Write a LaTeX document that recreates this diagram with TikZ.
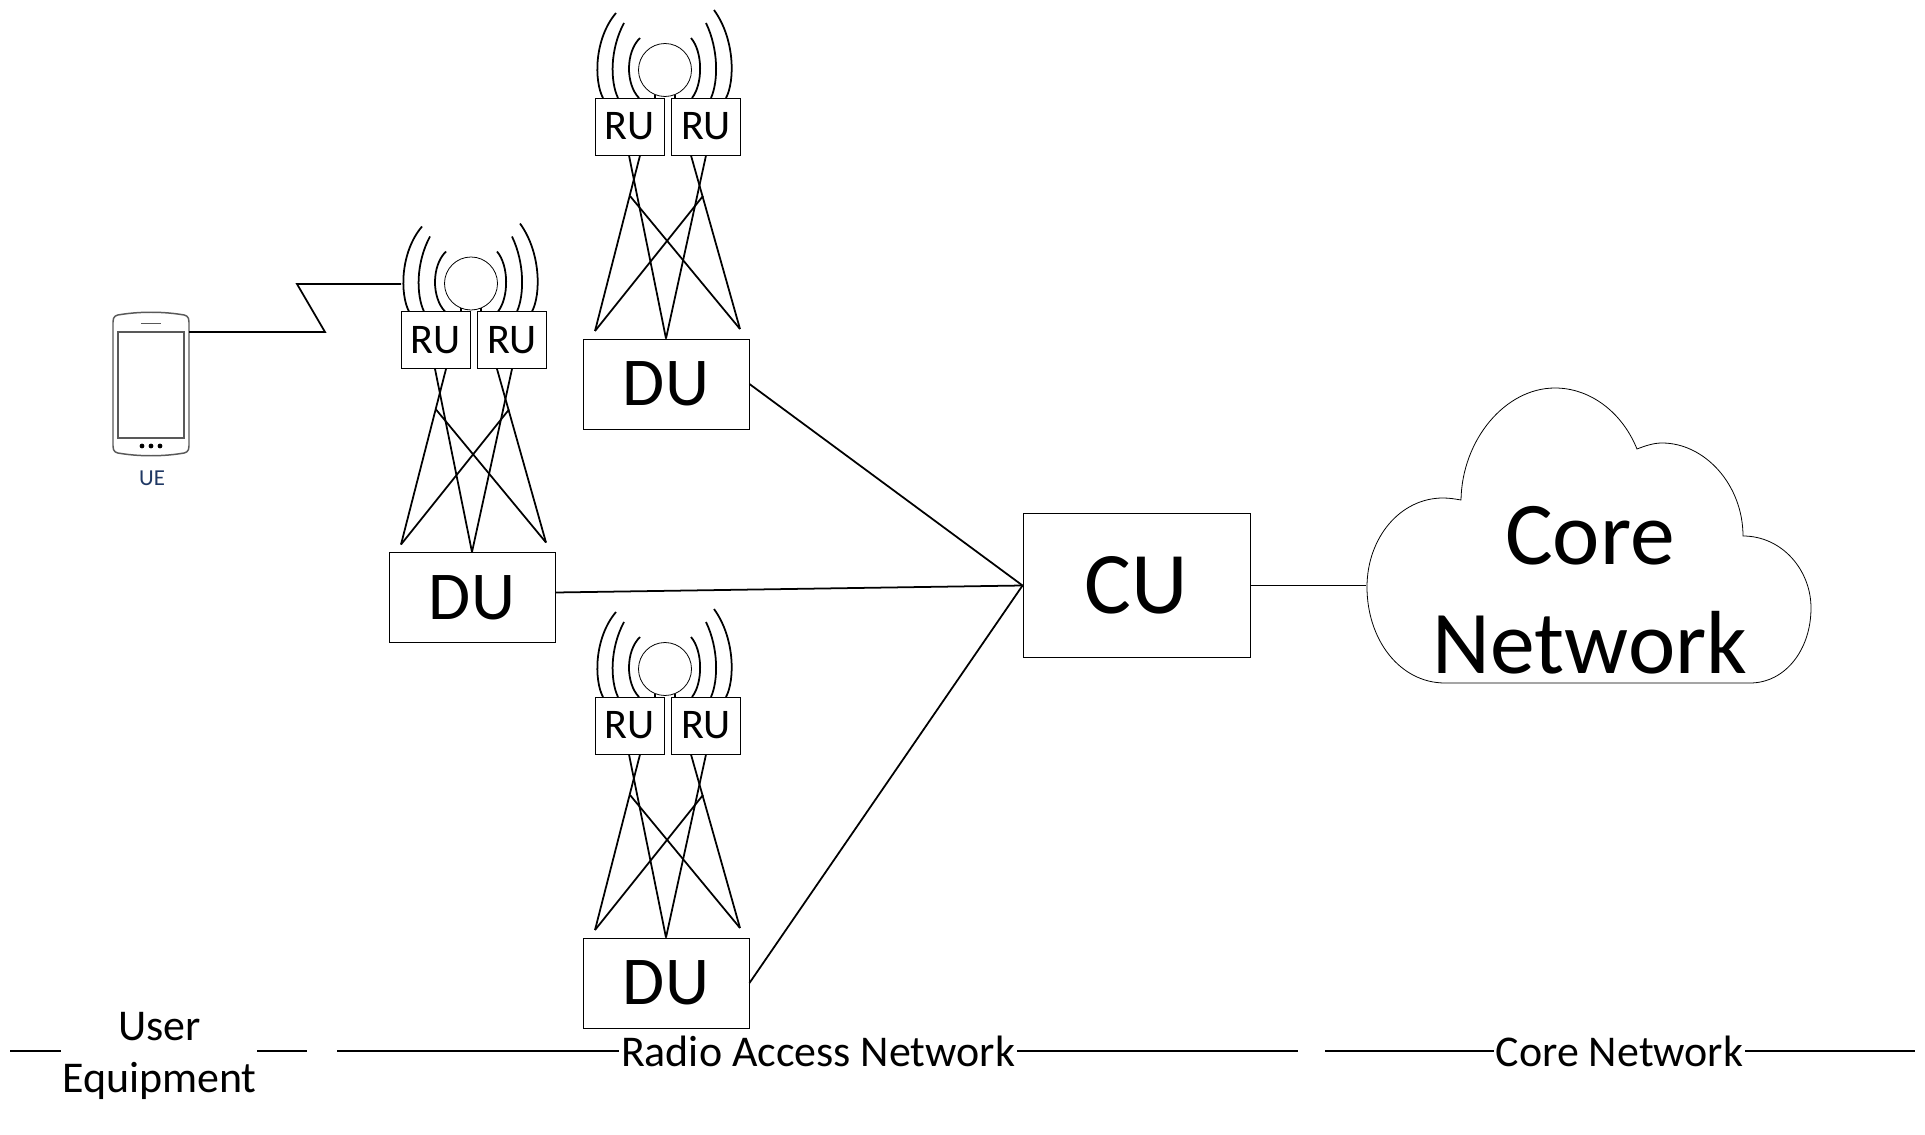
\documentclass[tikz,border=0pt]{standalone}
\usepackage{fontspec}
\setmainfont{Carlito}
\usetikzlibrary{positioning,calc}
\definecolor{uenavy}{RGB}{31,56,100}

\tikzset{
    rubox/.style={draw,line width=0.55pt,fill=white,inner sep=0pt,minimum width=1.38cm,minimum height=1.14cm,font=\fontsize{24}{28}\selectfont},
    dubox/.style={draw,line width=0.55pt,inner sep=0pt,minimum width=3.32cm,minimum height=1.8cm,font=\fontsize{39}{46}\selectfont},
    cubox/.style={draw,line width=0.55pt,inner sep=0pt,minimum width=4.54cm,minimum height=2.88cm,font=\fontsize{50}{60}\selectfont},
    mast/.style={line width=1pt},
    wave/.style={line width=1pt},
    link/.style={line width=1pt},
    span/.style={line width=1pt},
    spanlabel/.style={inner sep=1pt,font=\fontsize{25}{30}\selectfont},
    tower/.pic={
        \node[dubox] (du) at (0,0) {DU};
        \node[rubox] (rul) at (-36.5,-257.5) {RU};
        \node[rubox] (rur) at (40,-257.5) {RU};
        % Antenne
        \draw[line width=0.45pt] (-1,-314) circle (26.5);
        \draw[wave] (-11,-289) -- (-11,-286);
        \draw[wave] (9,-289) -- (9,-286);
        \draw[wave] (-50,-371) .. controls (-72,-345) and (-72,-303) .. (-63,-286);
        \draw[wave] (-42,-361) .. controls (-56,-335) and (-56,-303) .. (-48,-286);
        \draw[wave] (-26,-346) .. controls (-40.5,-332) and (-40.5,-300) .. (-27,-286);
        \draw[wave] (25,-346) .. controls (37,-332) and (37,-300) .. (26,-286);
        \draw[wave] (40,-361) .. controls (52.5,-335) and (52.5,-303) .. (45,-286);
        \draw[wave] (48,-374) .. controls (69,-345) and (69,-303) .. (60,-286);
        % Pylone
        \coordinate (footl) at (-71,-53);
        \coordinate (footr) at (74,-55);
        \draw[mast] ($(rul.south)+(-0.5,0)$) -- (du.north);
        \draw[mast] ($(rul.south)+(10.5,0)$) -- (footl);
        \draw[mast] ($(rur.south)+(0,0)$) -- (du.north);
        \draw[mast] ($(rur.south)+(-15,0)$) -- (footr);
        \draw[mast] (-36,-188) -- (footr);
        \draw[mast] (37,-188) -- (footl);
    }
}

\begin{document}
\begin{tikzpicture}[x=0.02cm,y=-0.02cm]
    \useasboundingbox (0,0) rectangle (1925,1135);

    % Terminal
    \draw[line width=0.85pt,gray!70!black] (113,322) .. controls (113,316) and (116,315) .. (121,314.5) .. controls (140,311.5) and (162,311.5) .. (181,314.5) .. controls (186,315) and (189,316) .. (189,322) -- (189,446) .. controls (189,452) and (186,453) .. (181,453.5) .. controls (162,456.5) and (140,456.5) .. (121,453.5) .. controls (116,453) and (113,452) .. (113,446) -- cycle;
    \node[draw,line width=0.7pt,gray!70!black,inner sep=0pt,minimum width=1.32cm,minimum height=2.12cm] (screen) at (151,385) {};
    \draw[line width=0.5pt,gray!70!black] (141,323) -- (161,323);
    \fill (142,446) circle (2.4) (151,446) circle (2.4) (160,446) circle (2.4);
    \node[text=uenavy,inner sep=0pt,font=\fontsize{13}{15}\selectfont] (ue) at (152,478) {UE};

    % Pylones
    \pic (top-) at (666,384) {tower};
    \pic (mid-) at (472,597.5) {tower};
    \pic (bot-) at (666,983) {tower};

    % Liaison radio
    \coordinate (phoneport) at (189,332);
    \coordinate (zigb) at (325,332);
    \coordinate (zigt) at (297,284);
    \coordinate (waveport) at (401,284);
    \draw[link] (phoneport) -- (zigb) -- (zigt) -- (waveport);

    % CU et coeur
    \node[cubox] (cu) at (1136.5,585.5) {CU};
    \draw[line width=0.45pt] (1461,500) .. controls (1462,440) and (1505,388) .. (1555,388) .. controls (1590,388) and (1622,412) .. (1637,449) .. controls (1645,446) and (1653,443) .. (1662,443) .. controls (1705,443) and (1743,485) .. (1743,536) .. controls (1782,536) and (1811,570) .. (1811,608) .. controls (1811,650) and (1785,683) .. (1750,683) -- (1445,683) .. controls (1400,683) and (1367,640) .. (1367,587) .. controls (1367,538) and (1400,498) .. (1443,498) .. controls (1450,498) and (1455,499) .. (1461,500) -- cycle;
    \node[align=center,inner sep=0pt,font=\fontsize{51}{62}\selectfont] (core) at (1590,590) {Core\\Network};
    \coordinate (cloudport) at (1366,585.5);
    \draw[link] (top-du.east) -- (cu.west);
    \draw[link] ($(mid-du.east)+(0,-5)$) -- (cu.west);
    \draw[link] (bot-du.east) -- (cu.west);
    \draw[link] (cu.east) -- (cloudport);

    % Domaines
    \node[spanlabel,align=center] (userspan) at (159.5,1056) {User\\Equipment};
    \node[spanlabel] (ranspan) at (818,1051) {Radio Access Network};
    \node[spanlabel] (corespan) at (1619.5,1051) {Core Network};
    \coordinate (usera) at (10,1051);
    \coordinate (userb) at (61,1051);
    \coordinate (userc) at (257,1051);
    \coordinate (userd) at (307,1051);
    \coordinate (rana) at (337,1051);
    \coordinate (ranb) at (1298,1051);
    \coordinate (corea) at (1325,1051);
    \coordinate (coreb) at (1915,1051);
    \draw[span] (usera) -- (userb);
    \draw[span] (userc) -- (userd);
    \draw[span] (rana) -- (ranspan.west);
    \draw[span] (ranspan.east) -- (ranb);
    \draw[span] (corea) -- (corespan.west);
    \draw[span] (corespan.east) -- (coreb);
\end{tikzpicture}
\end{document}
